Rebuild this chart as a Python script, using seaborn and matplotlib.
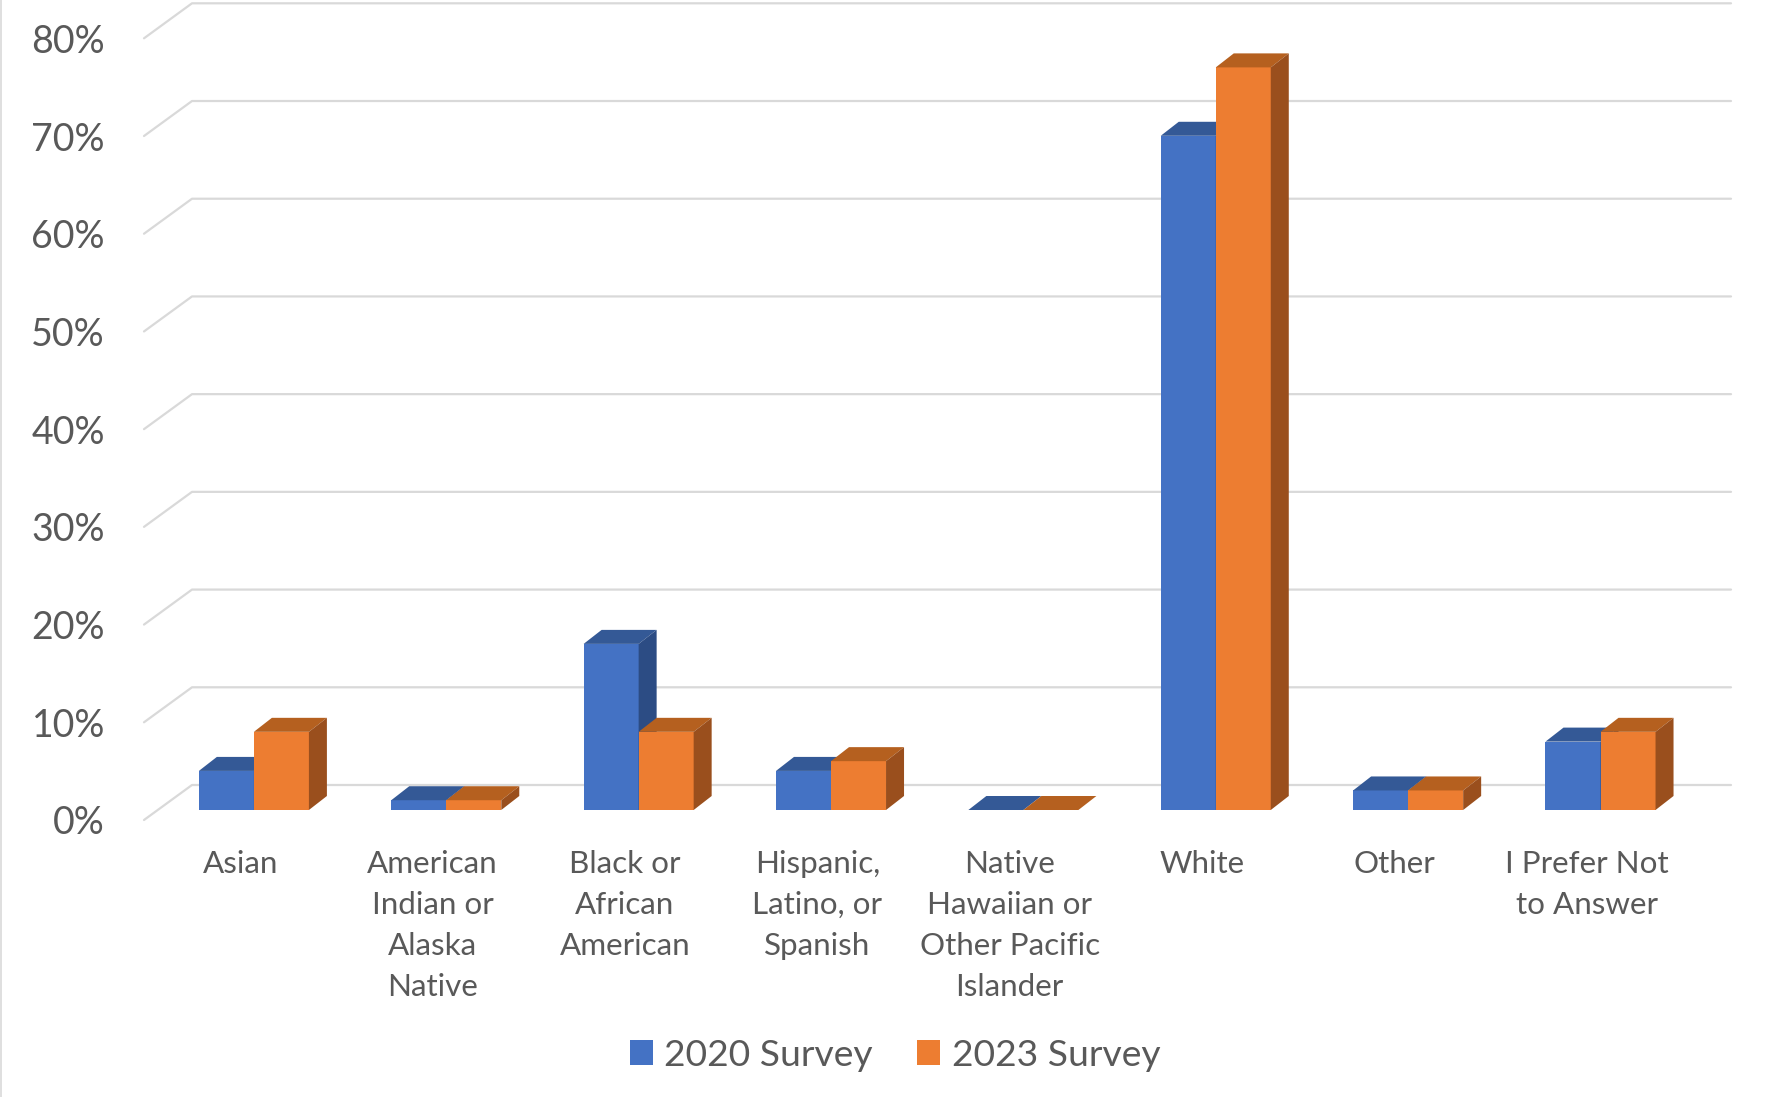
import matplotlib
matplotlib.use("Agg")
import matplotlib.pyplot as plt
from matplotlib.patches import Polygon
from matplotlib.lines import Line2D
import matplotlib.transforms as mtransforms
import pandas as pd
import seaborn as sns

# Survey data (percent of respondents)
categories = [
    "Asian",
    "American\nIndian or\nAlaska\nNative",
    "Black or\nAfrican\nAmerican",
    "Hispanic,\nLatino, or\nSpanish",
    "Native\nHawaiian or\nOther Pacific\nIslander",
    "White",
    "Other",
    "I Prefer Not\nto Answer",
]
surveys = ["2020 Survey", "2023 Survey"]
values_2020 = [4, 1, 17, 4, 0, 69, 2, 7]
values_2023 = [8, 1, 8, 5, 0, 76, 2, 8]
y_ticks = [0, 10, 20, 30, 40, 50, 60, 70, 80]
y_tick_labels = [f"{v}%" for v in y_ticks]

df = pd.DataFrame({
    "category": categories * 2,
    "survey": [surveys[0]] * len(categories) + [surveys[1]] * len(categories),
    "value": values_2020 + values_2023,
})

front_colors = ["#4472C4", "#ED7D31"]
top_colors = ["#345996", "#B5601F"]
side_colors = ["#2C4C84", "#9A4F1D"]
text_color = "#595959"
grid_color = "#D9D9D9"

sns.set_theme(style="white")
plt.rcParams["font.family"] = ["Lato", "DejaVu Sans"]

W, H, DPI = 1773, 1097, 100
fig = plt.figure(figsize=(W / DPI, H / DPI), dpi=DPI)
ax_left, ax_bottom, ax_w, ax_h = 157.7, 287.0, 1539.0, 781.7
ax = fig.add_axes([ax_left / W, ax_bottom / H, ax_w / W, ax_h / H])
ax.set_facecolor("none")

sns.barplot(data=df, x="category", y="value", hue="survey", palette=front_colors,
            width=0.572, saturation=1, linewidth=0, ax=ax)
ax.set_xlim(-0.5, len(categories) - 0.5)
ax.set_ylim(0, 80)

# pixel -> data unit conversion for the pseudo-3D depth
px_x = ax_w / len(categories)
px_y = ax_h / 80.0
bar_dx, bar_dy = 18 / px_x, 14 / px_y          # depth of each column
front_dx, front_dy = -13.7 / px_x, -10 / px_y  # floor front edge relative to bar faces
back_dx, back_dy = 34.3 / px_x, 25 / px_y      # back wall relative to bar faces

# gridlines: diagonal on the side wall, then horizontal along the back wall
x0, x1 = -0.5, len(categories) - 0.5
for v in y_ticks:
    ax.add_line(Line2D([x0 + front_dx, x0 + back_dx, x1 + back_dx],
                       [v + front_dy, v + back_dy, v + back_dy],
                       color=grid_color, lw=1.6, zorder=0.5, clip_on=False))

# give each column a top and a side face
for hi, cont in enumerate(ax.containers):
    for bar in cont:
        bx, by = bar.get_x(), bar.get_y()
        bw, bh = bar.get_width(), bar.get_height()
        z = 2 + hi * 0.2
        bar.set_zorder(z)
        top = Polygon([(bx, by + bh), (bx + bw, by + bh),
                       (bx + bw + bar_dx, by + bh + bar_dy), (bx + bar_dx, by + bh + bar_dy)],
                      closed=True, facecolor=top_colors[hi], edgecolor="none",
                      zorder=z + 0.1, clip_on=False)
        side = Polygon([(bx + bw, by), (bx + bw + bar_dx, by + bar_dy),
                        (bx + bw + bar_dx, by + bh + bar_dy), (bx + bw, by + bh)],
                       closed=True, facecolor=side_colors[hi], edgecolor="none",
                       zorder=z + 0.1, clip_on=False)
        ax.add_patch(top)
        ax.add_patch(side)

for s in ax.spines.values():
    s.set_visible(False)
ax.grid(False)
ax.set_xlabel("")
ax.set_ylabel("")

ax.set_yticks(y_ticks)
ax.set_yticklabels(y_tick_labels)
ax.tick_params(axis="y", length=0, pad=38, labelsize=27, labelcolor=text_color)
ax.tick_params(axis="x", length=0, pad=29, labelsize=22.6, labelcolor=text_color)
ax.set_xticks(range(len(categories)))
ax.set_xticklabels(categories, linespacing=1.56)

y_shift = mtransforms.ScaledTranslation(0, -10 / DPI, fig.dpi_scale_trans)
for lab in ax.get_yticklabels():
    lab.set_transform(lab.get_transform() + y_shift)
x_shift = mtransforms.ScaledTranslation(-13.7 / DPI, 0, fig.dpi_scale_trans)
for lab in ax.get_xticklabels():
    lab.set_transform(lab.get_transform() + x_shift)

# legend at the bottom centre
handles, labels = ax.get_legend_handles_labels()
if ax.get_legend() is not None:
    ax.get_legend().remove()
fig.legend(handles, labels, loc="center", bbox_to_anchor=(895 / W, 42 / H), ncol=2,
           frameon=False, fontsize=26.8, labelcolor=text_color,
           handlelength=0.62, handleheight=0.66, handletextpad=0.3,
           columnspacing=1.2)

# thin chart border at the left edge
fig.add_artist(Line2D([0.5 / W, 0.5 / W], [0, 1], color=grid_color, lw=1.2,
                      transform=fig.transFigure))

fig.savefig("out.png", dpi=DPI)
